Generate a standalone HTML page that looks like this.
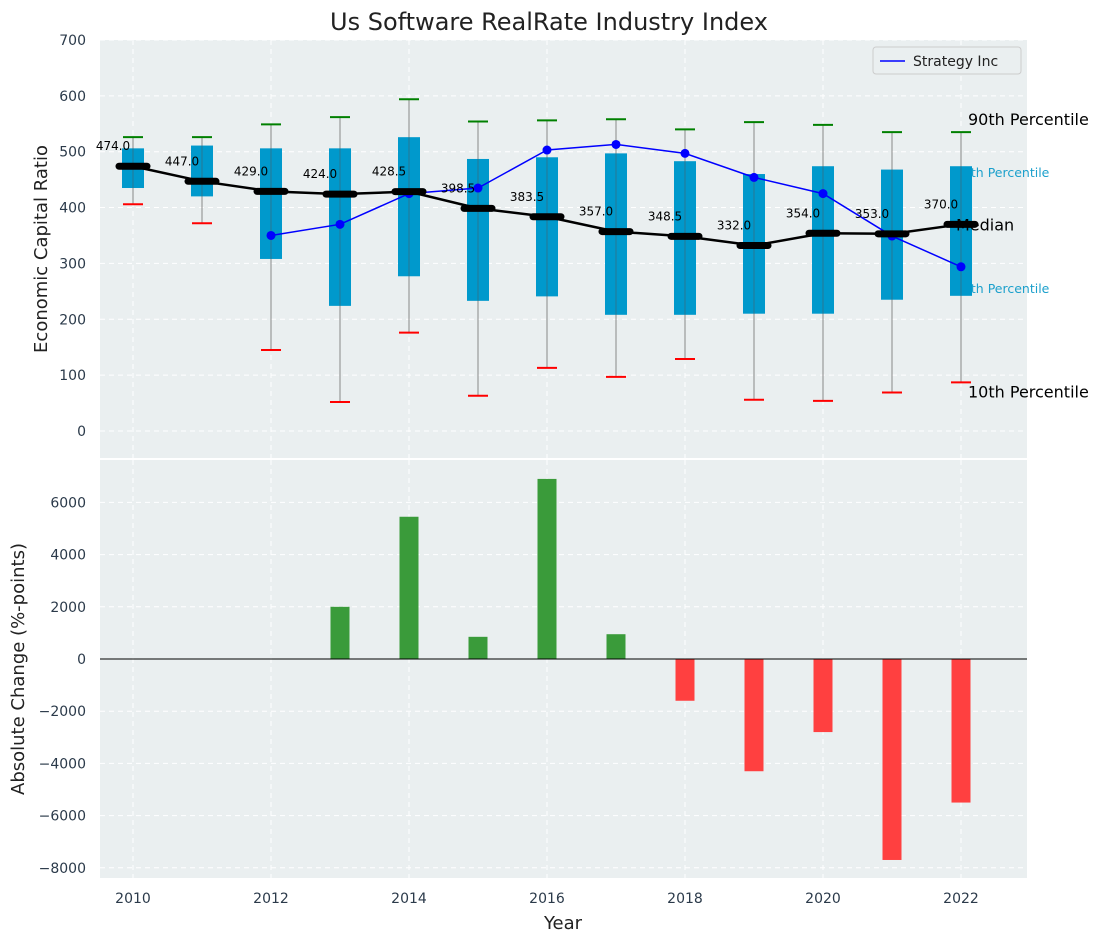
<!DOCTYPE html>
<html><head><meta charset="utf-8"><style>body{margin:0;background:#fff}svg{font-family:"DejaVu Sans","Liberation Sans",sans-serif}</style></head>
<body>
<svg id="c" width="1103" height="942" xmlns="http://www.w3.org/2000/svg"></svg>
<script>
const years=[2010,2011,2012,2013,2014,2015,2016,2017,2018,2019,2020,2021,2022];
const p10=[406,372,145,52,176,63,113,97,129,56,54,69,87];
const p25=[435,420,308,224,277,233,241,208,208,210,210,235,242];
const median=[474,447,429,424,428.5,398.5,383.5,357,348.5,332,354,353,370];
const p75=[506,511,506,506,526,487,490,497,483,460,474,468,474];
const p90=[526,526,549,562,594,554,556,558,540,553,548,535,535];
const strategy=[null,null,350,370,425,435,503,513,497,454,425,349,294];
const changes=[0,0,0,2000,5450,850,6900,950,-1600,-4300,-2800,-7700,-5500];
const topTicks=[0,100,200,300,400,500,600,700];
const botTicks=[-8000,-6000,-4000,-2000,0,2000,4000,6000];
const xTicks=[2010,2012,2014,2016,2018,2020,2022];

const NS="http://www.w3.org/2000/svg",svg=document.getElementById('c');
function el(t,a,txt){const e=document.createElementNS(NS,t);for(const k in a)e.setAttribute(k,a[k]);if(txt!==undefined)e.textContent=txt;svg.appendChild(e);return e;}
const X=v=>133+(v-2010)*69;
const Y1=v=>431-v*0.5586;
const Y2=v=>659-v*0.0261;
const L=100,R=1027;

let e;
e=el('rect',{x:L,y:40,width:R-L,height:418,fill:'#eaeff0'});

e=el('rect',{x:L,y:460,width:R-L,height:418,fill:'#eaeff0'});


topTicks.forEach(t=>{el('line',{x1:L,x2:R,y1:Y1(t),y2:Y1(t),stroke:'#fff','stroke-dasharray':'5,4'});
 e=el('text',{x:86,y:Y1(t)+5,'text-anchor':'end','font-size':14,fill:'#2b3a4a'},t);
 });
botTicks.forEach(t=>{el('line',{x1:L,x2:R,y1:Y2(t),y2:Y2(t),stroke:'#fff','stroke-dasharray':'5,4'});
 e=el('text',{x:86,y:Y2(t)+5,'text-anchor':'end','font-size':14,fill:'#2b3a4a'},t<0?'\u2212'+(-t):t);
 });
xTicks.forEach(t=>{el('line',{x1:X(t),x2:X(t),y1:40,y2:458,stroke:'#fff','stroke-dasharray':'5,4'});
 el('line',{x1:X(t),x2:X(t),y1:460,y2:878,stroke:'#fff','stroke-dasharray':'5,4'});
 e=el('text',{x:X(t),y:903,'text-anchor':'middle','font-size':14,fill:'#2b3a4a'},t);
 });

const last=years.length-1,xl=X(years[last]);
e=el('text',{x:xl+7,y:Y1(p90[last])-7,'font-size':16,fill:'#000'},'90th Percentile');
e=el('text',{x:xl-6,y:Y1(p75[last])+11,'font-size':12.5,fill:'#1ca0cc'},'75th Percentile');
e=el('text',{x:xl-6,y:Y1(p25[last])-3,'font-size':12.5,fill:'#1ca0cc'},'25th Percentile');
e=el('text',{x:xl+7,y:Y1(p10[last])+15,'font-size':16,fill:'#000'},'10th Percentile');

years.forEach((y,i)=>{const x=X(y);
 e=el('line',{x1:x,x2:x,y1:Y1(p90[i]),y2:Y1(p10[i]),stroke:'#888','stroke-width':1});
 
 e=el('rect',{x:x-11,y:Y1(p75[i]),width:22,height:Y1(p25[i])-Y1(p75[i]),fill:'#0099cc'});
 
 el('line',{x1:x,x2:x,y1:Y1(p75[i]),y2:Y1(p25[i]),stroke:'#555','stroke-width':0.8,opacity:0.6});
 e=el('line',{x1:x-10,x2:x+10,y1:Y1(p90[i]),y2:Y1(p90[i]),stroke:'green','stroke-width':2});
 
 e=el('line',{x1:x-10,x2:x+10,y1:Y1(p10[i]),y2:Y1(p10[i]),stroke:'red','stroke-width':2});
 
});
let pts=[];years.forEach((y,i)=>{if(strategy[i]!==null)pts.push(X(y)+','+Y1(strategy[i]));});
e=el('polyline',{points:pts.join(' '),fill:'none',stroke:'blue','stroke-width':1.5});

years.forEach((y,i)=>{if(strategy[i]===null)return;
 e=el('circle',{cx:X(y),cy:Y1(strategy[i]),r:4.5,fill:'blue'});
 });
e=el('polyline',{points:years.map((y,i)=>X(y)+','+Y1(median[i])).join(' '),fill:'none',stroke:'#000','stroke-width':2.5});

years.forEach((y,i)=>{const x=X(y),yy=Y1(median[i]);
 e=el('line',{x1:x-14,x2:x+14,y1:yy,y2:yy,stroke:'#000','stroke-width':7,'stroke-linecap':'round'});
 
 e=el('text',{x:x-20,y:yy-16,'text-anchor':'middle','font-size':12,fill:'#000'},median[i].toFixed(1));
 });
e=el('text',{x:xl-5,y:Y1(median[last])+6,'font-size':16,fill:'#000'},'Median');

e=el('rect',{x:873,y:47,width:148,height:27,fill:'#eaeff0',stroke:'#ccc',rx:3});

el('line',{x1:880,x2:905,y1:61,y2:61,stroke:'blue','stroke-width':1.5});
e=el('text',{x:913,y:66,'font-size':14,fill:'#222'},'Strategy Inc');

years.forEach((y,i)=>{const v=changes[i];if(v===0)return;
 const y0=Y2(0),y1=Y2(v);
 e=el('rect',{x:X(y)-9.5,y:Math.min(y0,y1),width:19,height:Math.abs(y1-y0),fill:v>0?'#3a9b3a':'#ff4040'});
 });
el('line',{x1:L,x2:R,y1:Y2(0),y2:Y2(0),stroke:'#000','stroke-width':1});

e=el('text',{x:549,y:30,'text-anchor':'middle','font-size':24,fill:'#222'},'Us Software RealRate Industry Index');
e=el('text',{x:47,y:249,'text-anchor':'middle','font-size':18,fill:'#222',transform:'rotate(-90 47 249)'},'Economic Capital Ratio');
e=el('text',{x:24,y:669,'text-anchor':'middle','font-size':18,fill:'#222',transform:'rotate(-90 24 669)'},'Absolute Change (%-points)');
e=el('text',{x:563,y:929,'text-anchor':'middle','font-size':18,fill:'#222'},'Year');
</script>
</body></html>
